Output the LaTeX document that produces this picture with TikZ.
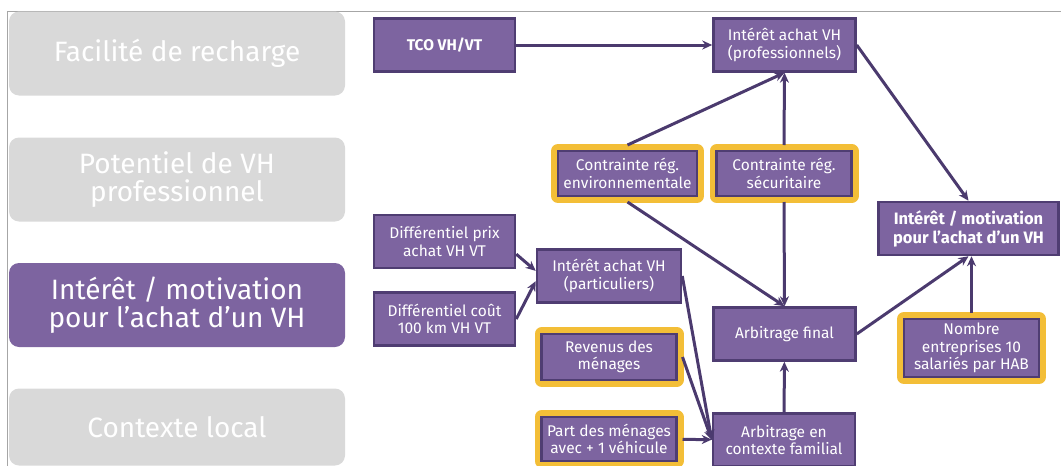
\documentclass[tikz,border=0pt]{standalone}
\usepackage{fontspec}
\setmainfont{Fira Sans}
\usetikzlibrary{arrows.meta}
\definecolor{boxfill}{HTML}{7D64A0}
\definecolor{boxline}{HTML}{4F3D72}
\definecolor{flechecol}{HTML}{4B3A6E}
\definecolor{jaune}{HTML}{F3BE37}
\definecolor{grisclair}{HTML}{D9D9D9}
\definecolor{grisligne}{HTML}{A6A6A6}

\begin{document}
\begin{tikzpicture}[x=1pt,y=-1pt,
	box/.style={draw=boxline, line width=2.5pt, fill=boxfill, text=white, align=center,
		font=\fontsize{15.5}{17.5}\selectfont, inner sep=0pt,
		minimum width=141pt, minimum height=53pt},
	cadre/.style={box, preaction={draw=jaune, line width=14pt, line join=round},
		outer sep=6pt, minimum width=135pt, minimum height=45pt},
	onglet/.style={fill=grisclair, rounded corners=10pt, text=white, align=center,
		font=\fontsize{28}{28}\selectfont, inner sep=0pt,
		minimum width=336pt, minimum height=84pt},
	fleche/.style={draw=flechecol, line width=3pt, -{Stealth[length=10pt,width=9pt]}}]
	\useasboundingbox (0,0) rectangle (1061,466);
	\draw[grisligne, line width=1pt] (7,466) -- (7,11) -- (1061,11);

	% themes
	\node[onglet] (recharge) at (177,53.5) {Facilité de recharge};
	\node[onglet] (potentiel) at (177,179.5) {Potentiel de VH\\professionnel};
	\node[onglet, fill=boxfill] (interet) at (177,305) {Intérêt / motivation\\pour l’achat d’un VH};
	\node[onglet, minimum height=77pt] (contexte) at (177,427) {Contexte local};

	% facteurs
	\node[box, font=\fontsize{15.5}{17.5}\selectfont\bfseries] (tco) at (444.5,45) {TCO VH/VT};
	\node[box, minimum width=142pt] (pro) at (784.5,45) {Intérêt achat VH\\(professionnels)};
	\node[cadre, minimum width=139pt] (env) at (627.5,173.5) {Contrainte rég.\\environnementale};
	\node[cadre] (secu) at (784,173.5) {Contrainte rég.\\sécuritaire};
	\node[box, minimum width=180pt, font=\fontsize{16.5}{19}\selectfont\bfseries] (motiv) at (968.5,228.5) {Intérêt / motivation\\pour l’achat d’un VH};
	\node[box] (prix) at (444.5,241.5) {Différentiel prix\\achat VH VT};
	\node[box] (cout) at (444.5,319) {Différentiel coût\\100 km VH VT};
	\node[box, minimum width=144pt] (parti) at (609,276) {Intérêt achat VH\\(particuliers)};
	\node[cadre, minimum height=46pt] (revenus) at (609,357) {Revenus des\\ménages};
	\node[cadre, minimum height=44pt] (menages) at (609,439) {Part des ménages\\avec + 1 véhicule};
	\node[box, minimum width=142pt] (final) at (784.5,334) {Arbitrage final};
	\node[box, minimum width=142pt] (familial) at (784,440) {Arbitrage en\\contexte familial};
	\node[cadre, minimum height=58pt] (nombre) at (971.5,348) {Nombre\\entreprises 10\\salariés par HAB};

	\draw[fleche] (tco) -- (pro);
	\draw[fleche] (pro.east) -- (motiv.north);
	\draw[fleche] (env.north) -- (pro.south);
	\draw[fleche] (secu.north) -- (pro.south);
	\draw[fleche] (env.south) -- (final.north);
	\draw[fleche] (secu.south) -- (final.north);
	\draw[fleche] (final.east) -- (motiv.south);
	\draw[fleche] (nombre.north) -- (nombre.north |- motiv.south);
	\draw[fleche] (prix.-10) -- (parti.176);
	\draw[fleche] (cout.east) -- (parti.184);
	\draw[fleche] (parti.east) -- (familial.west);
	\draw[fleche] (revenus.east) -- (familial.west);
	\draw[fleche] (menages) -- (familial);
	\draw[fleche] (familial) -- (final);
\end{tikzpicture}
\end{document}
